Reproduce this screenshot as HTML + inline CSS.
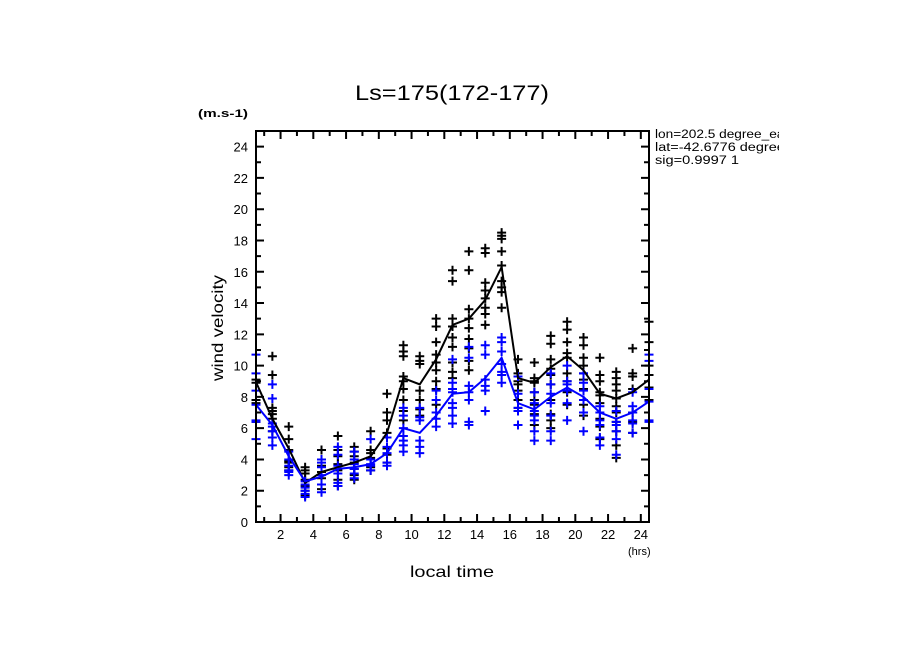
<!DOCTYPE html>
<html><head><meta charset="utf-8"><style>
body{margin:0;background:#fff;width:904px;height:654px;overflow:hidden}
svg{display:block;font-family:"Liberation Sans","DejaVu Sans",sans-serif}
</style></head><body>
<svg id="chart" width="904" height="654" viewBox="0 0 904 654">
<text x="355" y="100" font-size="21" textLength="194" lengthAdjust="spacingAndGlyphs">Ls=175(172-177)</text>
<text x="198" y="117" font-size="11" font-weight="bold" textLength="50" lengthAdjust="spacingAndGlyphs">(m.s-1)</text>
<text x="223" y="328" font-size="16" text-anchor="middle" textLength="106" lengthAdjust="spacingAndGlyphs" transform="rotate(-90 223 328)">wind velocity</text>
<text x="410" y="577" font-size="16" textLength="84" lengthAdjust="spacingAndGlyphs">local time</text>
<text x="628" y="555" font-size="11">(hrs)</text>
<svg x="650" y="125" width="129" height="50" overflow="hidden">
<text x="5" y="13" font-size="11.5" textLength="140" lengthAdjust="spacingAndGlyphs">lon=202.5 degree_east</text>
<text x="5" y="26" font-size="11.5" textLength="137" lengthAdjust="spacingAndGlyphs">lat=-42.6776 degrees</text>
<text x="5" y="39" font-size="11.5" textLength="84" lengthAdjust="spacingAndGlyphs">sig=0.9997 1</text>
</svg>
<g id="plot"></g>
</svg>
<script>
const hours=[0.5,1.5,2.5,3.5,4.5,5.5,6.5,7.5,8.5,9.5,10.5,11.5,12.5,13.5,14.5,15.5,16.5,17.5,18.5,19.5,20.5,21.5,22.5,23.5,24.5];
const blackMean=[8.95,6.6,4.7,2.5,3.2,3.5,3.8,4.2,5.7,9.2,8.8,10.4,12.6,13.0,14.2,16.3,9.2,8.9,9.9,10.6,9.7,8.2,7.9,8.3,9.1];
const blueMean=[7.5,6.2,4.2,2.6,2.9,3.4,3.5,3.7,4.4,6.0,5.7,6.8,8.2,8.3,9.2,10.5,7.6,7.2,8.0,8.6,8.0,7.0,6.6,7.0,7.7];
const blackPts=[[7.6,7.8,8.9,9.1,6.4],[10.6,9.4,7.3,7.1,6.9,6.6,5.8],[6.1,5.3,4.6,3.8,3.5,3.3,3.9],[3.5,3.3,3.1,2.7,2.3,2.0,1.7],[4.6,4.0,3.6,3.2,2.8,2.4,2.1],[5.5,4.6,4.2,3.7,3.3,2.7,2.3],[4.8,4.5,4.2,3.8,3.4,3.0,2.7],[5.8,4.6,4.4,4.1,3.5,3.3],[8.2,7.0,6.5,5.7,4.7,4.3,3.8],[11.3,10.9,10.6,9.3,9.0,8.5,7.8,7.1,6.5],[10.6,10.3,10.1,8.4,7.8,7.2,6.8],[13.0,12.5,11.5,10.7,10.2,9.7,9.0,8.5,7.5],[16.1,15.4,13.0,12.5,11.8,11.2,10.2,9.6,9.2,8.5],[17.3,16.1,13.6,13.0,12.4,11.7,11.1,10.3,9.7],[17.5,17.2,15.3,14.8,14.3,13.7,13.3,12.6],[18.5,18.3,18.1,17.3,16.4,15.4,15.0,14.7,13.7],[10.4,9.5,9.0,8.8,8.4,7.8,7.3],[10.2,9.2,9.0,8.9,8.3,7.8,7.5,6.9,6.2],[11.9,11.4,10.4,9.8,9.4,8.8,7.8,6.9,6.5,6.0],[12.8,12.3,11.5,10.8,10.5,9.5,9.0,8.3,7.5],[11.8,11.3,10.5,10.0,9.5,9.1,8.5,7.5,6.8],[10.5,9.4,9.0,8.3,8.1,7.6,6.6,6.1,5.3],[9.6,9.2,8.8,8.4,7.9,7.4,7.0,6.4,5.8,4.9,4.1],[11.1,9.5,9.3,8.5,7.0,6.4,5.7],[12.8,11.5,10.0,9.4,8.6,7.8]];
const bluePts=[[10.7,9.5,8.4,7.5,6.5,6.4,5.3],[8.8,7.9,6.3,6.1,5.8,5.4,4.9],[4.5,4.0,3.6,3.3,3.2,3.0],[2.6,2.4,2.2,2.0,1.8,1.6],[4.0,3.8,3.5,3.0,2.4,1.9],[4.8,4.3,3.6,3.1,2.5,2.3],[4.5,4.0,3.7,3.4,3.1,2.8],[5.3,4.0,3.7,3.6,3.3],[5.4,4.8,4.4,3.8,3.6],[7.3,6.8,6.0,5.5,5.2,4.9,4.5],[7.3,6.7,6.5,5.2,4.8,4.4],[8.4,7.8,7.0,6.6,6.1],[10.4,8.9,8.5,8.3,7.6,7.3,6.8,6.3],[11.2,10.5,8.7,8.3,7.8,6.4,6.2],[11.3,10.7,9.1,8.7,8.4,7.1],[11.8,11.5,10.9,10.1,9.6,9.4,8.9],[9.3,8.2,7.3,7.1,6.2],[8.3,7.6,7.1,6.8,6.5,5.8,5.2],[9.5,8.8,8.2,7.6,6.8,5.8,5.2],[10.0,9.0,8.8,8.4,7.6,6.5],[9.5,8.9,8.4,7.8,7.0,5.8],[7.4,7.0,6.5,6.2,5.4,4.9],[7.1,6.4,6.2,5.8,5.3,4.3],[8.3,7.4,7.0,6.5,6.3,5.7],[10.7,10.3,8.5,7.7,6.4,6.5]];
const yTicks=[0,2,4,6,8,10,12,14,16,18,20,22,24];
const xTicks=[2,4,6,8,10,12,14,16,18,20,22,24];

const L=256,R=649,T=131,B=522,X0=0.5,X1=24.5,Y0=0,Y1=25;
const sx=v=>L+(v-X0)/(X1-X0)*(R-L);
const sy=v=>B-(v-Y0)/(Y1-Y0)*(B-T);
const NS='http://www.w3.org/2000/svg';
const g=document.getElementById('plot');
function mk(tag,attrs,parent){const e=document.createElementNS(NS,tag);for(const k in attrs)e.setAttribute(k,attrs[k]);(parent||g).appendChild(e);return e;}

function drawPts(pts,color,name){
  const grp=mk('g',{stroke:color,'stroke-width':2});
  
  
  pts.forEach((arr,i)=>arr.forEach(v=>{
    const x=sx(hours[i]),y=sy(v);
    const p=mk('path',{d:`M${x-4.5},${y}H${x+4.5}M${x},${y-4.5}V${y+4.5}`},grp);
    
    
  }));
}
drawPts(blackPts,'#000','black');
drawPts(bluePts,'#0000ff','blue');
function drawLine(vals,color,name){
  const l=mk('polyline',{points:vals.map((v,i)=>sx(hours[i])+','+sy(v)).join(' '),fill:'none',stroke:color,'stroke-width':2});
  
  
}
drawLine(blackMean,'#000','black-mean-line');
drawLine(blueMean,'#0000ff','blue-mean-line');

const ax=mk('g',{stroke:'#000','stroke-width':2,fill:'none'});


mk('rect',{x:L,y:T,width:R-L,height:B-T},ax);
for(let v=1;v<=25;v++){
  const y=sy(v),len=(v%2===0)?8:5;
  mk('path',{d:`M${L},${y}h${len}M${R},${y}h${-len}`},ax);
}
for(let h=1;h<=24;h++){
  const x=sx(h),len=(h%2===0)?8:5;
  mk('path',{d:`M${x},${B}v${-len}M${x},${T}v${len}`},ax);
}
yTicks.forEach(v=>{
  const t=mk('text',{x:L-8,y:sy(v)+5,'text-anchor':'end','font-size':13});
  t.textContent=v;
  
  
});
xTicks.forEach(v=>{
  const t=mk('text',{x:sx(v),y:B+17,'text-anchor':'middle','font-size':13});
  t.textContent=v;
  
  
});
</script>
</body></html>
